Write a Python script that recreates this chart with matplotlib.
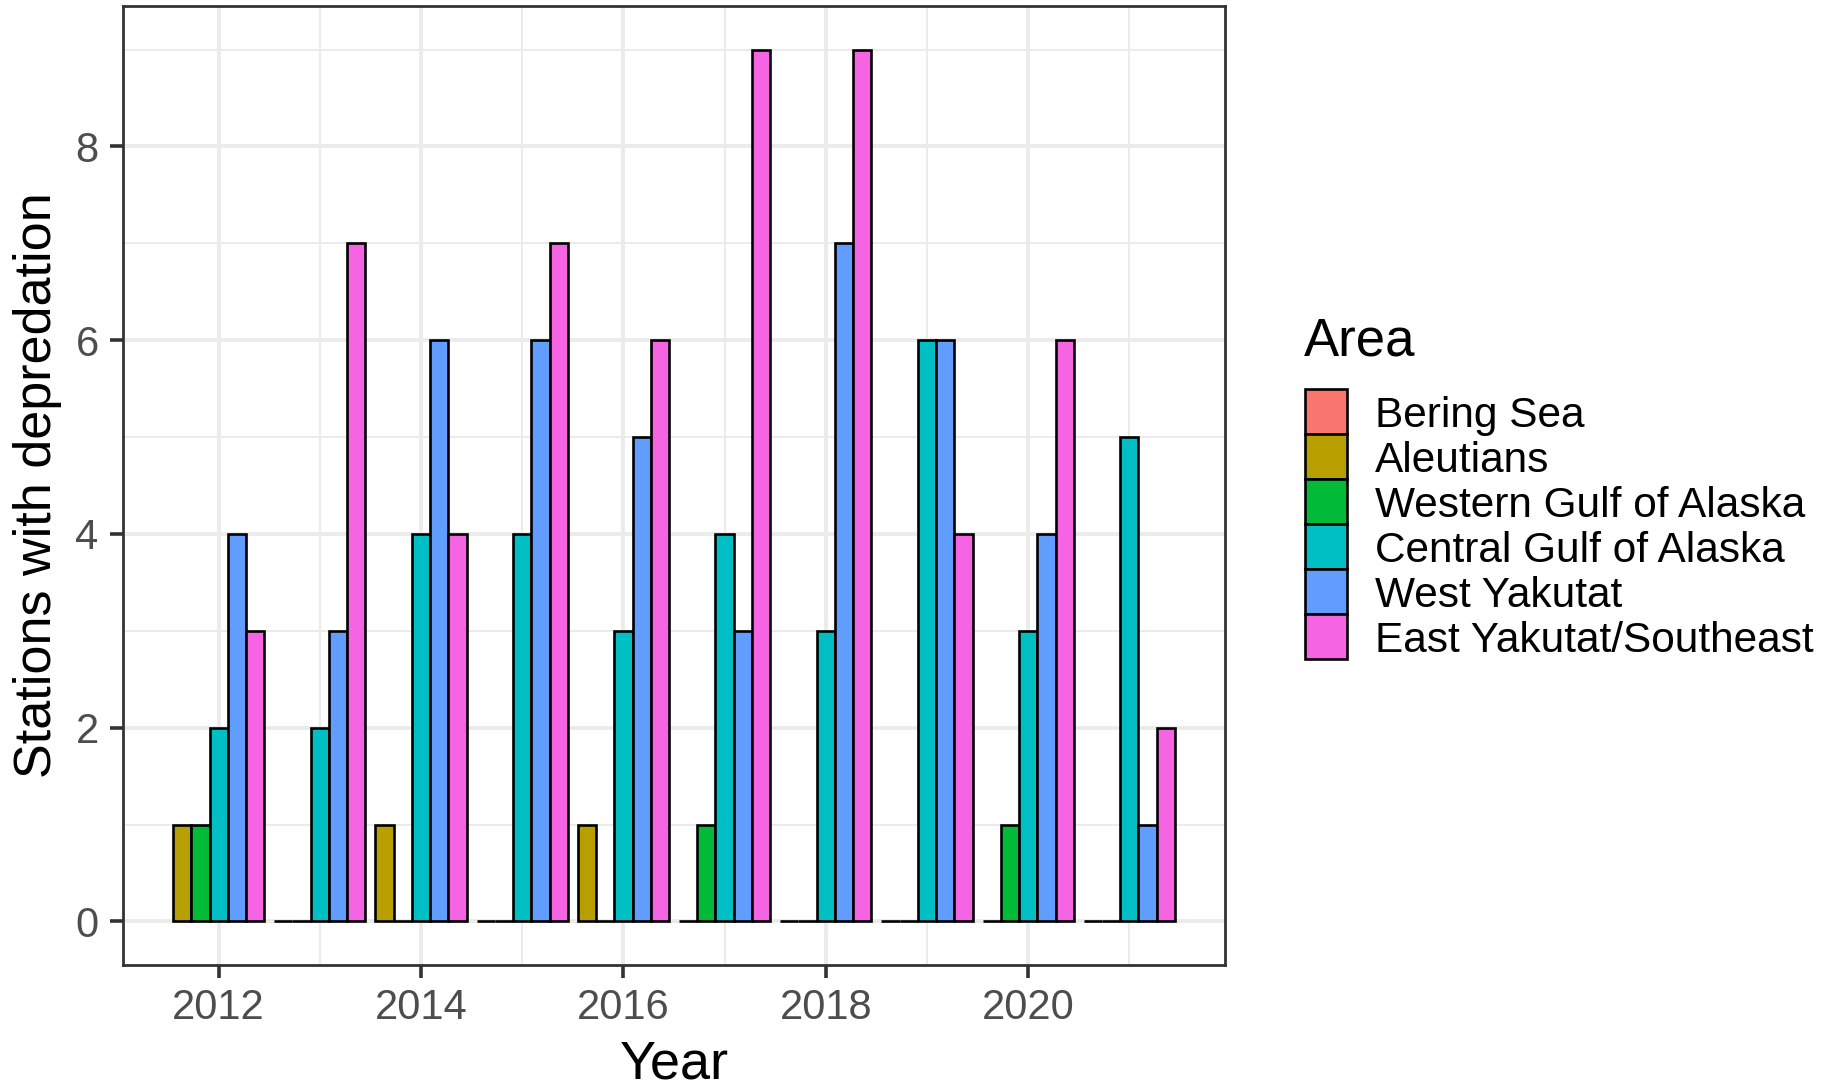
import numpy as np
import matplotlib
matplotlib.use("Agg")
from matplotlib import pyplot as plt
from matplotlib.patches import Rectangle
from matplotlib.ticker import MultipleLocator

plt.rcParams['font.family'] = ['Liberation Sans', 'DejaVu Sans']

years = [2012, 2013, 2014, 2015, 2016, 2017, 2018, 2019, 2020, 2021]
areas = ['Bering Sea', 'Aleutians', 'Western Gulf of Alaska',
         'Central Gulf of Alaska', 'West Yakutat', 'East Yakutat/Southeast']
colors = ['#F8766D', '#B79F00', '#00BA38', '#00BFC4', '#619CFF', '#F564E3']

# Bering Sea has no rows in the data, it only shows up in the legend
aleutians = [1, 0, 1, 0, 1, 0, 0, 0, 0, 0]
western_goa = [1, 0, 0, 0, 0, 1, 0, 0, 1, 0]
central_goa = [2, 2, 4, 4, 3, 4, 3, 6, 3, 5]
west_yakutat = [4, 3, 6, 6, 5, 3, 7, 6, 4, 1]
east_yakutat = [3, 7, 4, 7, 6, 9, 9, 4, 6, 2]

series = [aleutians, western_goa, central_goa, west_yakutat, east_yakutat]

W, H = 1834, 1087


def main():
    fig = plt.figure(figsize=(W / 100, H / 100), dpi=100)
    ax = fig.add_axes([123 / W, 1 - 965 / H, (1225 - 123) / W, (965 - 6) / H])

    x = np.array(years, dtype=float)
    n = len(series)
    width = 0.9 / n
    for i, vals in enumerate(series):
        pos = x + (i - (n - 1) / 2) * width
        ax.bar(pos, vals, width=width, color=colors[i + 1],
               edgecolor='black', linewidth=1.9, zorder=3)

    ax.set_xlim(2011.055, 2021.945)
    ax.set_ylim(-0.45, 9.45)
    ax.xaxis.set_major_locator(MultipleLocator(2))
    ax.xaxis.set_minor_locator(MultipleLocator(1))
    ax.yaxis.set_major_locator(MultipleLocator(2))
    ax.yaxis.set_minor_locator(MultipleLocator(1))
    ax.set_xticks(range(2012, 2021, 2))

    ax.grid(which='major', color='#EBEBEB', linewidth=2.8, zorder=0)
    ax.grid(which='minor', color='#EBEBEB', linewidth=1.4, zorder=0)
    ax.set_axisbelow(True)
    for s in ax.spines.values():
        s.set_color('#333333')
        s.set_linewidth(2.0)

    ax.tick_params(which='major', length=9.5, width=2.6, color='#333333',
                   labelsize=30, labelcolor='#4D4D4D')
    ax.tick_params(axis='x', pad=7)
    ax.tick_params(axis='y', pad=8)
    ax.tick_params(which='minor', length=0)

    ax.set_xlabel('Year', fontsize=39, labelpad=8)
    ax.set_ylabel('Stations with depredation', fontsize=37.5, labelpad=10)

    # legend drawn by hand to get ggplot's key spacing
    fig.text(1304 / W, 1 - 355 / H, 'Area', fontsize=38, ha='left', va='baseline')
    key_h = 45
    for i, (name, c) in enumerate(zip(areas, colors)):
        top = 389 + i * key_h
        fig.add_artist(Rectangle((1305 / W, 1 - (top + key_h) / H), 42 / W, key_h / H,
                                 transform=fig.transFigure, facecolor=c,
                                 edgecolor='black', linewidth=1.9))
        fig.text(1375 / W, 1 - (top + key_h / 2) / H, name, fontsize=30.5,
                 ha='left', va='center_baseline')

    fig.savefig('out.png', dpi=100)


if __name__ == "__main__":
    main()
